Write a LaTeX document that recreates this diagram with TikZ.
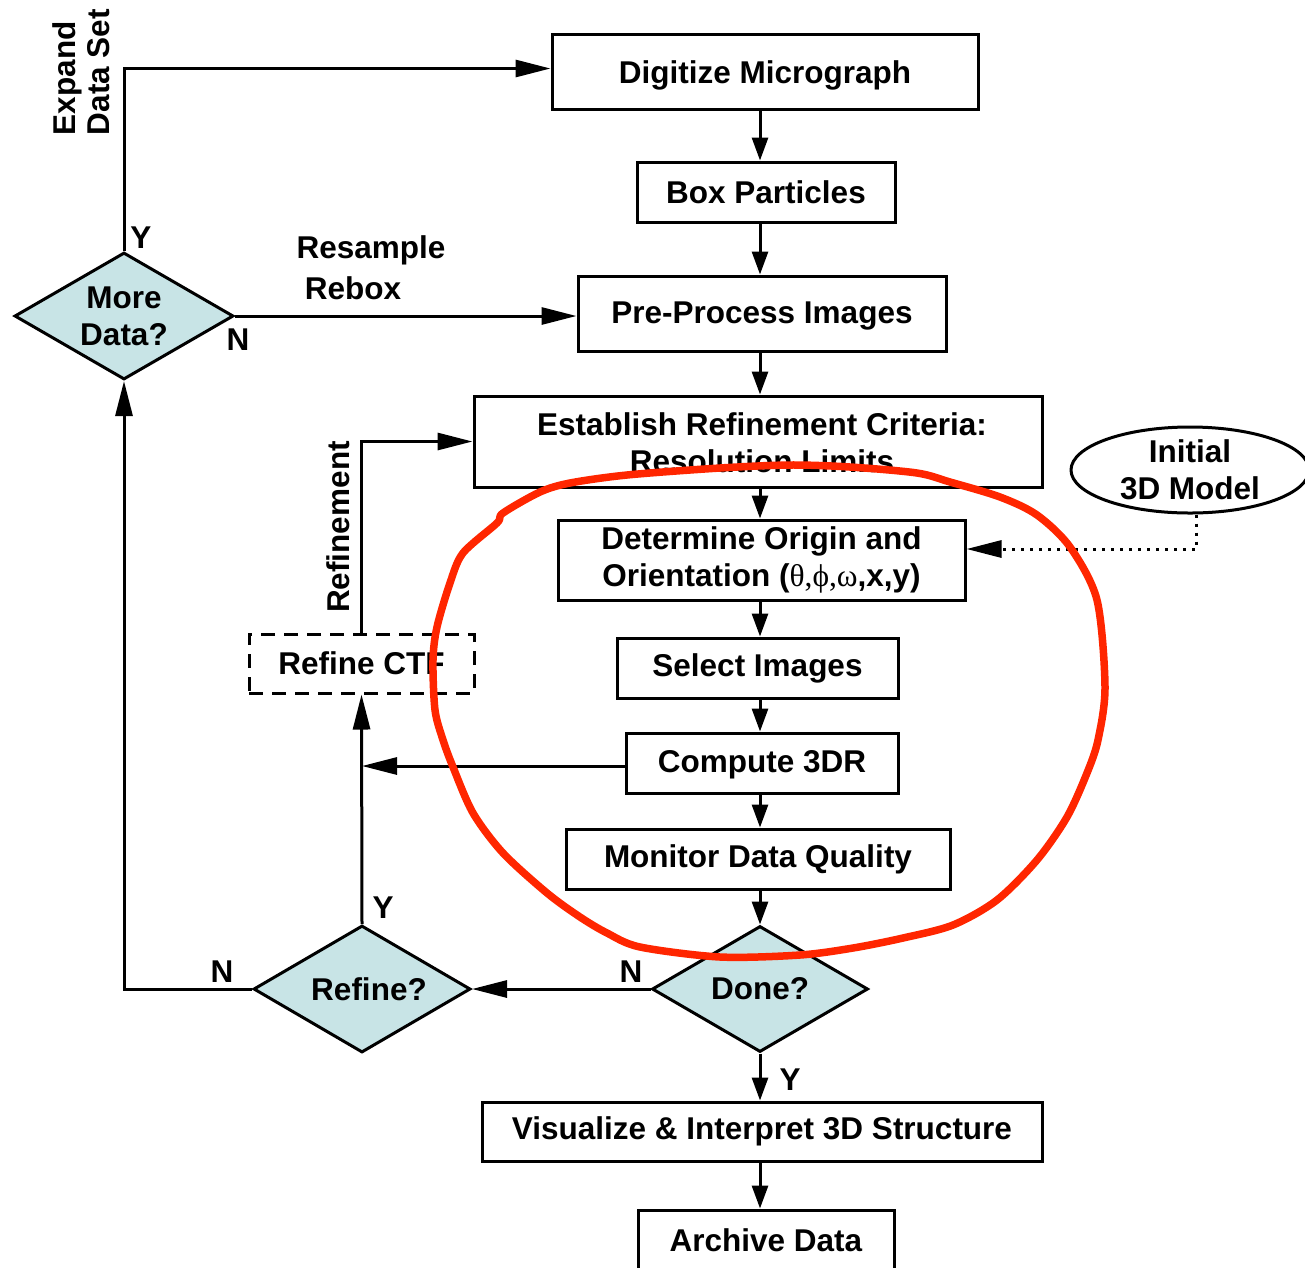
\documentclass[tikz,border=0pt]{standalone}
\usepackage{fontspec}
\setmainfont{Liberation Sans}
\newfontfamily\grkfont{Liberation Serif}
\usetikzlibrary{shapes.geometric,arrows.meta,calc}
\definecolor{dfill}{RGB}{200,228,230}
\definecolor{redpen}{RGB}{255,38,0}
\begin{document}
\begin{tikzpicture}[x=1pt,y=-1pt,
  every node/.style={font=\fontsize{31.5}{37}\selectfont\bfseries, inner sep=0pt},
  procbox/.style={draw, line width=3pt, align=center},
  decis/.style={draw, line width=3pt, fill=dfill, diamond, aspect=1.72, align=center},
  conn/.style={line width=3pt},
  sarrow/.style={conn, -{Triangle[length=23pt,width=16pt]}},
  larrow/.style={conn, -{Triangle[length=35pt,width=17pt]}},
  lbl/.style={}
]
\useasboundingbox (0,0) rectangle (1305,1267);
\coordinate (col) at (760,0);

% boxes
\node[procbox, minimum width=426pt, minimum height=75pt] (dig) at (765,71.5) {\raisebox{-4pt}[\height][\depth]{Digitize Micrograph}};
\node[procbox, minimum width=258pt, minimum height=60pt] (boxp) at (766,192) {Box Particles};
\node[procbox, minimum width=368pt, minimum height=75pt] (pre) at (762,313.5) {\raisebox{-2pt}[\height][\depth]{Pre-Process Images}};
\node[procbox, minimum width=568pt, minimum height=91pt] (est) at (758,441.5) {};
\begin{scope}
  \clip (474,396) rectangle (1042,472);
  \node[align=center] (esttext) at (762,443) {Establish Refinement Criteria:\\Resolution Limits};
\end{scope}
\node[procbox, minimum width=407pt, minimum height=80pt] (det) at (761.5,560)
  {Determine Origin and\\Orientation ({\grkfont\mdseries θ,ϕ,ω},x,y)};
\node[procbox, minimum width=281pt, minimum height=60pt] (sel) at (757.5,668) {Select Images};
\node[procbox, minimum width=272pt, minimum height=60pt] (comp) at (762,763) {\raisebox{-2pt}[\height][\depth]{Compute 3DR}};
\node[procbox, minimum width=384pt, minimum height=60pt] (mon) at (758,859) {Monitor Data Quality};
\node[decis, minimum width=216pt, minimum height=126pt] (done) at (760,989) {Done?};
\node[decis, minimum width=217pt, minimum height=127pt] (refine) at (362,989) {\hspace*{14pt}Refine?};
\node[decis, minimum width=219pt, minimum height=127pt] (more) at (124,316) {More\\Data?};
\node[procbox, minimum width=560pt, minimum height=59pt] (vis) at (762,1131.5) {Visualize \& Interpret 3D Structure};
\node[procbox, minimum width=256pt, minimum height=60pt] (arch) at (766,1240) {Archive Data};
\node[procbox, dashed, dash pattern=on 14pt off 9pt, minimum width=225pt, minimum height=59pt] (ctf) at (361.5,663.5) {Refine CTF};
\node[draw, line width=3pt, ellipse, minimum width=238pt, minimum height=86pt, align=center] (init) at (1190,470) {Initial\\3D Model};

% main column
\draw[sarrow] (dig.south -| col) -- (boxp.north -| col);
\draw[sarrow] (boxp.south -| col) -- (pre.north -| col);
\draw[sarrow] (pre.south -| col) -- (est.north -| col);
\draw[sarrow] (est.south -| col) -- (det.north -| col);
\draw[sarrow] (det.south -| col) -- (sel.north -| col);
\draw[sarrow] (sel.south -| col) -- (comp.north -| col);
\draw[sarrow] (comp.south -| col) -- (mon.north -| col);
\draw[sarrow] (mon.south -| col) -- (done.north -| col);
\draw[sarrow] (done.south -| col) -- (vis.north -| col);
\draw[sarrow] (vis.south -| col) -- (arch.north -| col);

% loops
\coordinate (digin) at ($(dig.west)+(0,-3)$);
\draw[larrow] (more.east) -- (more.east -| pre.west);
\draw[larrow] (more.north) |- (digin);
\draw[larrow] (done.west) -- (refine.east);
\draw[larrow] (refine.west) -| (more.south);
\draw[larrow] (refine.north) -- (ctf.south);
\coordinate (compout) at ($(comp.west)+(0,3)$);
\draw[larrow] (compout) -- (compout -| refine.north);
\draw[larrow] (ctf.north) |- (est.west);
\coordinate (dq) at ($(det.east)+(0,-11)$);
\coordinate (iq) at ($(init.south)+(6,0)$);
\draw[line width=3pt, dash pattern=on 3pt off 6pt, -{Triangle[length=35pt,width=17pt]}] (iq) |- (dq);

% labels
\node[lbl] (ly1) at (141,238) {Y};
\node[lbl] (ln1) at (238,340) {N};
\node[lbl] (ln2) at (222,972) {N};
\node[lbl] (ly2) at (383,908) {Y};
\node[lbl] (ln3) at (631,972) {N};
\node[lbl] (ly3) at (790,1080) {Y};
\node[lbl] (lres) at (371,250) {Resample};
\node[lbl] (lreb) at (353,288) {Rebox};
\node[lbl, rotate=90] (lref) at (338,527) {Refinement};
\node[lbl, rotate=90, align=left, font=\fontsize{31.5}{34}\selectfont\bfseries] (lexp) at (81,72) {Expand\\Data Set};

% red freehand loop
\draw[redpen, line width=7.5pt, line join=round] plot[smooth cycle, tension=0.5] coordinates {
(497,523) (503,513) (540,492) (570,483) (627,475) (720,468) (790,465) (850,467)
(917,473) (950,482) (1000,497) (1037,515) (1070,547) (1097,600) (1105,687)
(1098,740) (1087,773) (1067,817) (1037,860) (997,900) (953,925) (903,938)
(853,948) (800,955) (720,957) (640,947) (607,933) (580,917) (547,893) (503,853)
(473,813) (453,767) (443,740) (435,710) (433,660) (437,627) (450,583) (463,553)};
\end{tikzpicture}
\end{document}
